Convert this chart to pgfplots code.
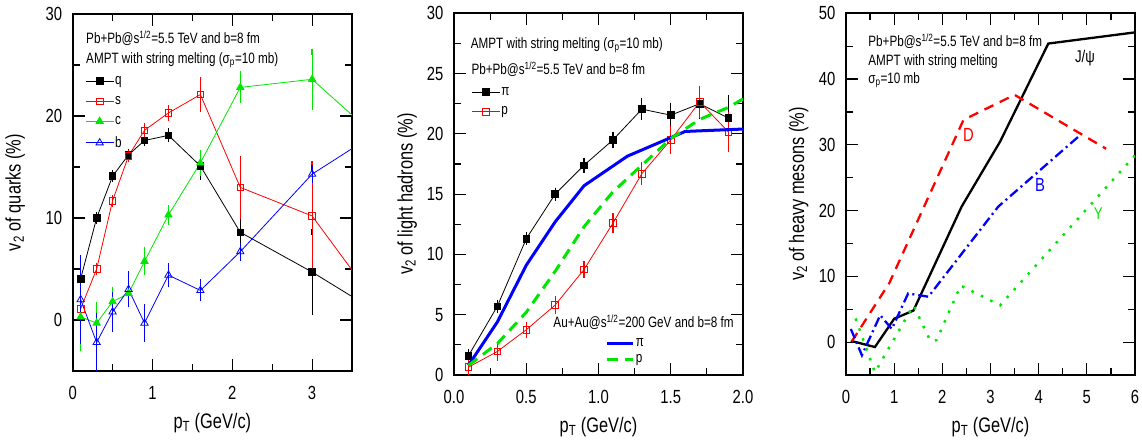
\documentclass[border=0pt]{standalone}
\usepackage{fontspec}
\setmainfont{Liberation Sans}[FakeStretch=0.78]
\usepackage{pgfplots}
\pgfplotsset{compat=1.18}
\definecolor{pr}{RGB}{255,0,0}
\definecolor{pg}{RGB}{0,230,0}
\definecolor{pb}{RGB}{0,0,255}

\tikzset{txt/.style={anchor=base west, font=\fontsize{15}{17}\selectfont, inner sep=0pt}}
\pgfplotsset{
  myax/.style={
    scale only axis,
    axis line style={line width=1.8pt},
    tick style={line width=1.2pt, color=black},
    tick align=inside,
    major tick length=12pt,
    minor tick length=7pt,
    minor x tick num=1, minor y tick num=1,
    /pgf/number format/assume math mode=true,
    tick label style={font=\fontsize{19}{21}\selectfont},
    yticklabel style={xshift=-7pt},
    xticklabel style={yshift=-12pt},
    every axis x label/.style={at={(axis description cs:0.5,0)}, anchor=base, yshift=-57pt, font=\fontsize{21}{23}\selectfont},
    every axis y label/.style={at={(axis description cs:0,0.5)}, anchor=base, rotate=90, font=\fontsize{21}{23}\selectfont},
    legend style={draw=none, fill=none, inner sep=0pt, row sep=8.5pt, font=\fontsize{15}{17}\selectfont, nodes={inner sep=1pt}},
    legend cell align=left,
    legend image code/.code={\draw[mark indices={2}] plot coordinates {(0pt,0pt) (14pt,0pt) (28pt,0pt)};},
    error bars/y dir=both, error bars/y explicit,
    error bars/error mark=-,
    error bars/error bar style={line width=1.2pt},
    error bars/error mark options={mark size=2.8pt, line width=1.2pt},
  },
}

\pgfplotstableread{
x y ey
0.1 4.05 0.3
0.3 10.0 0.3
0.5 14.1 0.3
0.7 16.2 0.3
0.9 17.6 0.3
1.2 18.1 0.4
1.6 15.1 1.1
2.1 8.6 2.2
3.0 4.7 3.9
4.0 -0.1 0
}\qtab
\pgfplotstableread{
x y ey
0.1 1.1 0.4
0.3 5.0 0.3
0.5 11.7 0.3
0.7 16.1 0.3
0.9 18.6 0.4
1.2 20.3 0.5
1.6 22.1 1.4
2.1 13.0 2.8
3.0 10.2 5.1
4.0 -0.4 0
}\stab
\pgfplotstableread{
x y ey
0.1 0.3 3.1
0.3 -0.3 1.8
0.5 1.8 1.2
0.7 2.6 1.1
0.9 5.75 1.1
1.2 10.3 0.7
1.6 15.4 1.0
2.1 22.8 1.3
3.0 23.6 2.7
4.0 16.6 0
}\ctab
\pgfplotstableread{
x y ey
0.1 2.0 4.1
0.3 -2.2 2.6
0.5 0.8 1.7
0.7 3.0 1.5
0.9 -0.3 1.6
1.2 4.4 0.9
1.6 2.9 0.8
2.1 6.7 0.6
3.0 14.3 0.6
4.0 19.3 0
}\btab
\pgfplotstableread{
x y ey
0.1 1.6 0.3
0.3 5.7 0.3
0.5 11.3 0.3
0.7 15.0 0.3
0.9 17.4 0.4
1.1 19.5 0.45
1.3 22.05 0.7
1.5 21.55 0.8
1.7 22.5 1.0
1.9 21.3 1.7
}\pitab
\pgfplotstableread{
x y ey
0.1 0.65 0.7
0.3 1.95 0.55
0.5 3.75 0.45
0.7 5.8 0.5
0.9 8.75 0.5
1.1 12.6 0.6
1.3 16.7 0.75
1.5 19.5 0.9
1.7 22.65 1.1
1.9 20.15 1.4
}\ptab

\begin{document}
\begin{tikzpicture}
% ---------------- panel 1 ----------------
\begin{axis}[myax, at={(72.7pt,70pt)}, anchor=south west,
  width=279.3pt, height=357pt,
  xmin=0, xmax=3.5, ymin=-5, ymax=30,
  xtick={0,1,2,3}, ytick={0,10,20,30},
  xlabel={p\textsubscript{T} (GeV/c)},
  ylabel={v\textsubscript{2} of quarks (\%)},
  ylabel style={yshift=52pt},
  legend style={at={(axis cs:0.155,24.0)}, anchor=north west},
]
\addplot[black, line width=0.8pt, mark=square*, mark size=3.3pt, mark indices={1,...,9}]
  table[x=x, y=y, y error=ey] {\qtab};
\addlegendentry{q}
\addplot[pr, line width=0.8pt, mark=square, mark size=3.3pt, mark options={fill=white}, mark indices={1,...,9}]
  table[x=x, y=y, y error=ey] {\stab};
\addlegendentry{s}
\addplot[pg, line width=0.8pt, mark=triangle*, mark size=4.2pt, mark indices={1,...,9}]
  table[x=x, y=y, y error=ey] {\ctab};
\addlegendentry{c}
\addplot[pb, line width=0.8pt, mark=triangle, mark size=4.2pt, mark options={fill=white}, mark indices={1,...,9}]
  table[x=x, y=y, y error=ey] {\btab};
\addlegendentry{b}
\node[txt] at (axis cs:0.167,27.06) {Pb+Pb@s\textsuperscript{1/2}=5.5 TeV and b=8 fm};
\node[txt] at (axis cs:0.167,25.17) {AMPT with string melting (σ\textsubscript{p}=10 mb)};
\end{axis}

% ---------------- panel 2 ----------------
\begin{axis}[myax, at={(454pt,66pt)}, anchor=south west,
  width=289pt, height=361.7pt,
  xmin=0, xmax=2, ymin=0, ymax=30,
  xtick={0,0.5,1,1.5,2}, xticklabels={0.0,0.5,1.0,1.5,2.0},
  ytick={0,5,...,30},
  xlabel={p\textsubscript{T} (GeV/c)},
  ylabel={v\textsubscript{2} of light hadrons (\%)},
  ylabel style={yshift=41.5pt},
  legend style={at={(axis cs:0.12,23.95)}, anchor=north west, row sep=8pt},
]
\addplot[black, line width=0.8pt, mark=square*, mark size=3.3pt]
  table[x=x, y=y, y error=ey] {\pitab};
\addlegendentry{π}
\addplot[pr, line width=0.8pt, mark=square, mark size=3.3pt, mark options={fill=white}]
  table[x=x, y=y, y error=ey] {\ptab};
\addlegendentry{p}
\node[txt] at (axis cs:0.115,27.1) {AMPT with string melting (σ\textsubscript{p}=10 mb)};
\node[txt] at (axis cs:0.12,24.9) {Pb+Pb@s\textsuperscript{1/2}=5.5 TeV and b=8 fm};
\node[txt] at (axis cs:0.687,3.9) {Au+Au@s\textsuperscript{1/2}=200 GeV and b=8 fm};
\end{axis}
\begin{axis}[myax, at={(454pt,66pt)}, anchor=south west,
  width=289pt, height=361.7pt,
  xmin=0, xmax=2, ymin=0, ymax=30,
  axis lines=none, ticks=none,
  legend style={at={(axis cs:1.05,3.1)}, anchor=north west, row sep=4pt},
  legend image code/.code={\draw plot coordinates {(0pt,0pt) (26pt,0pt)};},
]
\addplot[pb, line width=3pt, no marks] coordinates {(0.1,0.8) (0.3,4.4) (0.5,9.1) (0.7,12.7) (0.9,15.7) (1.2,18.15) (1.6,20.2) (2.0,20.4)};
\addlegendentry{π}
\addplot[pg, line width=3pt, no marks, dash pattern=on 11pt off 7pt] coordinates {(0.1,0.8) (0.3,2.6) (0.5,5.2) (0.7,8.6) (0.9,12.3) (1.1,15.2) (1.3,17.4) (1.5,19.6) (1.7,21.2) (1.9,22.2) (2.0,22.9)};
\addlegendentry{p}
\end{axis}

% ---------------- panel 3 ----------------
\begin{axis}[myax, at={(846pt,66pt)}, anchor=south west,
  width=289pt, height=361.7pt,
  xmin=0, xmax=6, ymin=-5, ymax=50,
  xtick={0,1,...,6}, ytick={0,10,...,50},
  xlabel={p\textsubscript{T} (GeV/c)},
  ylabel={v\textsubscript{2} of heavy mesons (\%)},
  ylabel style={yshift=42pt},
]
\addplot[black, line width=2.3pt, no marks] coordinates {(0.1,0.2) (0.6,-0.75) (1.0,3.55) (1.4,4.8) (2.4,20.6) (3.2,30.5) (4.2,45.4) (6.0,47.1)};
\addplot[pr, line width=2.3pt, no marks, dash pattern=on 10pt off 7pt] coordinates {(0.12,0.1) (0.9,9.0) (2.44,33.8) (3.5,37.6) (5.4,29.4)};
\addplot[pb, line width=2.3pt, no marks, dash pattern=on 10pt off 4pt on 2pt off 4pt] coordinates {(0.1,2.0) (0.33,-2.0) (0.71,4.1) (0.95,2.0) (1.29,7.4) (1.71,6.9) (3.16,20.6) (4.85,31.4)};
\addplot[pg, line width=2.5pt, no marks, dash pattern=on 2.5pt off 8pt] coordinates {(0.2,3.6) (0.6,-4.6) (1.4,5.6) (1.75,0.2) (1.88,0.3) (2.38,8.6) (3.2,5.6) (6.0,28.4)};
\node[txt] at (axis cs:0.46,44.9) {Pb+Pb@s\textsuperscript{1/2}=5.5 TeV and b=8 fm};
\node[txt] at (axis cs:0.46,42.0) {AMPT with string melting};
\node[txt] at (axis cs:0.46,39.3) {σ\textsubscript{p}=10 mb};
\node[font=\fontsize{17}{19}\selectfont] at (axis cs:4.96,43.2) {J/ψ};
\node[font=\fontsize{19}{21}\selectfont, text=pr] at (axis cs:2.54,31.5) {D};
\node[font=\fontsize{19}{21}\selectfont, text=pb] at (axis cs:4.03,23.9) {B};
\node[font=\fontsize{17}{19}\selectfont, text=pg] at (axis cs:5.24,19.6) {Υ};
\end{axis}
\pgfresetboundingbox
\path[use as bounding box] (0,0) rectangle (1142pt,441pt);
\end{tikzpicture}
\end{document}
